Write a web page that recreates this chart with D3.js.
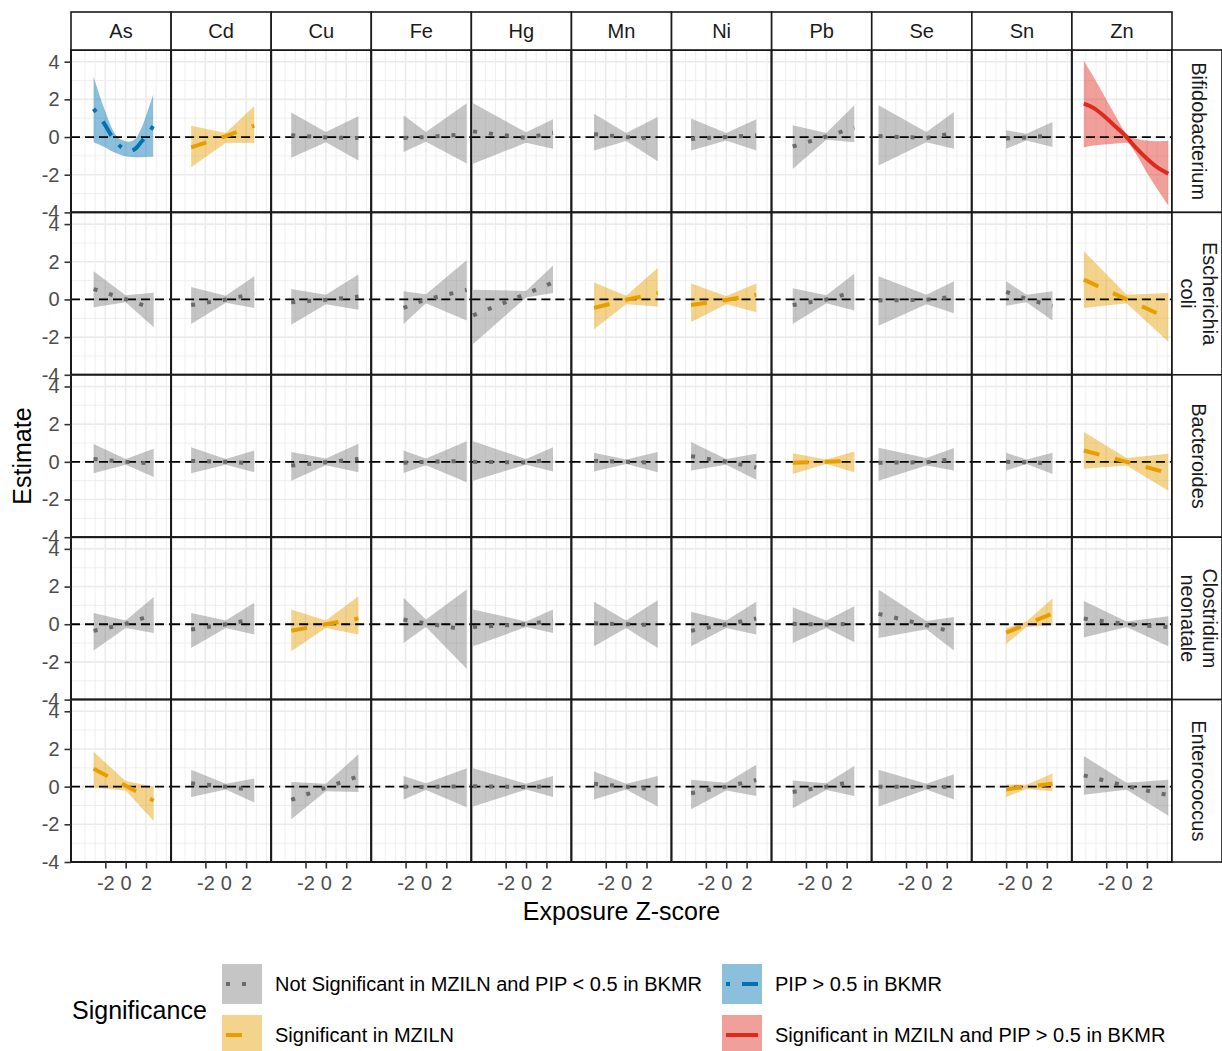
<!DOCTYPE html>
<html lang="en">
<head>
<meta charset="UTF-8">
<title>Exposure estimates by taxon</title>
<script src="https://d3js.org/d3.v7.min.js"></script>
<style>
  body { margin: 0; background: #fff; }
  svg { display: block; font-family: "Liberation Sans", Arial, sans-serif; }
</style>
</head>
<body>
<svg id="chart" width="1222" height="1051"></svg>
<script>
  // Facets
  const metals = ["As", "Cd", "Cu", "Fe", "Hg", "Mn", "Ni", "Pb", "Se", "Sn", "Zn"];
  const taxa = [["Bifidobacterium"], ["Escherichia", "coli"], ["Bacteroides"], ["Clostridium", "neonatale"], ["Enterococcus"]];

  const sigLabels = [
    "Not Significant in MZILN and PIP < 0.5 in BKMR",
    "PIP > 0.5 in BKMR",
    "Significant in MZILN",
    "Significant in MZILN and PIP > 0.5 in BKMR"
  ];
  const sigColors = ["#6a6a6a", "#0072B2", "#E69F00", "#DD2A1E"];
  const ribbonColors = ["#7f7f7f", "#0072B2", "#E69F00", "#DD2A1E"];
  const sigDash = ["4 12", "4 12 16 12", "16 16", null];

  // exposure z-score range of each metal
  const xLow  = [-3.15, -3.4, -3.4, -2.2, -5.2, -3.15, -3.45, -3.3, -4.7, -2.0, -4.2];
  const xHigh = [ 2.75,  2.8,  3.2,  4.0,  2.65, 3.1,   2.95,  2.75, 2.7,  2.55, 4.1];

  // significance group per taxon (rows) and metal (columns)
  const sig = [
    [1, 2, 0, 0, 0, 0, 0, 0, 0, 0, 3],
    [0, 0, 0, 0, 0, 2, 2, 0, 0, 0, 2],
    [0, 0, 0, 0, 0, 0, 0, 2, 0, 0, 2],
    [0, 0, 2, 0, 0, 0, 0, 0, 0, 2, 0],
    [2, 0, 0, 0, 0, 0, 0, 0, 0, 2, 0]
  ];

  // estimate at [min exposure, 0, max exposure]
  const est = [
    [null, [-0.55, 0.05, 0.6], [0.1, -0.02, -0.05], [-0.05, 0, 0.15], [0.3, -0.05, 0.22], [0.15, 0, -0.1], [-0.1, 0, 0.1], [-0.5, 0.03, 0.5], [0.05, -0.05, 0.2], [-0.08, -0.02, 0.08], null],
    [[0.55, 0.02, -0.5], [-0.3, 0, 0.3], [-0.15, -0.02, 0.15], [-0.45, 0, 0.5], [-0.85, 0.3, 0.9], [-0.45, -0.02, 0.35], [-0.3, -0.03, 0.25], [-0.3, 0, 0.4], [-0.05, -0.02, 0.15], [0.4, 0.03, -0.35], [1.05, 0, -1.0]],
    [[0.15, 0, -0.08], [0.05, 0, -0.08], [-0.2, -0.02, 0.15], [-0.05, 0, 0.05], [0, -0.03, 0.12], [0.05, 0, -0.05], [0.3, 0, -0.3], [-0.05, 0, 0.05], [-0.05, -0.02, 0.15], [0, -0.02, -0.08], [0.6, 0, -0.6]],
    [[-0.35, 0.02, 0.5], [-0.28, 0, 0.27], [-0.35, 0, 0.3], [0.25, 0.05, -0.3], [-0.15, 0, 0.2], [0.05, 0, -0.05], [-0.35, 0, 0.3], [0.02, -0.02, 0.02], [0.55, -0.05, -0.43], [-0.45, 0, 0.57], [0.3, 0, -0.15]],
    [[0.95, 0.05, -0.75], [0.18, 0, -0.18], [-0.7, -0.05, 0.55], [0, -0.02, 0.02], [0.02, -0.02, 0.03], [0.15, 0, -0.18], [-0.35, 0, 0.35], [-0.28, 0, 0.28], [0, -0.02, -0.02], [-0.15, 0, 0.15], [0.6, 0.02, -0.45]]
  ];
  const lower = [
    [null, [-1.6, -0.3, -0.32], [-1.1, -0.28, -1.25], [-0.8, -0.25, -1.4], [-1.42, -0.3, -0.62], [-0.71, -0.21, -1.28], [-0.71, -0.18, -0.71], [-1.69, -0.15, -0.27], [-1.51, -0.27, -0.62], [-0.62, -0.18, -0.53], null],
    [[-0.42, -0.15, -1.48], [-1.3, -0.18, -0.46], [-1.35, -0.25, -0.55], [-1.3, -0.2, -1.12], [-2.36, 0.1, 0.34], [-1.58, -0.25, -0.37], [-1.2, -0.25, -0.68], [-1.3, -0.2, -0.59], [-1.4, -0.25, -0.73], [-0.34, -0.15, -1.12], [-0.46, -0.2, -2.24]],
    [[-0.6, -0.15, -0.8], [-0.6, -0.15, -0.55], [-1.0, -0.18, -0.55], [-0.59, -0.18, -1.08], [-1.0, -0.15, -0.51], [-0.51, -0.12, -0.55], [-0.46, -0.15, -0.95], [-0.65, -0.12, -0.55], [-1.0, -0.2, -0.46], [-0.46, -0.12, -0.64], [-0.37, -0.2, -1.53]],
    [[-1.4, -0.2, -0.46], [-1.26, -0.2, -0.55], [-1.44, -0.2, -0.55], [-1.0, -0.15, -2.36], [-1.17, -0.15, -0.46], [-1.17, -0.2, -1.26], [-1.17, -0.2, -0.55], [-1.0, -0.2, -0.95], [-0.73, -0.27, -1.4], [-1.05, -0.15, -0.05], [-0.7, -0.15, -1.17]],
    [[-0.05, -0.2, -1.83], [-0.55, -0.15, -0.84], [-1.73, -0.25, -0.28], [-0.68, -0.18, -1.1], [-1.06, -0.15, -0.55], [-0.68, -0.15, -1.06], [-1.2, -0.2, -0.5], [-1.15, -0.18, -0.5], [-1.06, -0.15, -0.68], [-0.55, -0.12, -0.25], [-0.43, -0.16, -1.55]]
  ];
  const upper = [
    [null, [0.6, 0.22, 1.65], [1.3, 0.27, 1.1], [1.15, 0.27, 1.8], [1.8, 0.25, 0.95], [1.24, 0.21, 1.07], [0.98, 0.21, 0.94], [0.62, 0.22, 1.69], [1.69, 0.27, 1.33], [0.36, 0.18, 0.8], null],
    [[1.5, 0.22, 0.35], [0.66, 0.2, 1.23], [0.55, 0.25, 1.32], [0.43, 0.27, 2.08], [0.52, 0.45, 1.8], [0.9, 0.2, 1.67], [0.85, 0.18, 0.85], [0.6, 0.22, 1.37], [1.23, 0.25, 0.96], [0.96, 0.25, 0.43], [2.56, 0.25, 0.34]],
    [[0.95, 0.15, 0.7], [0.78, 0.15, 0.6], [0.52, 0.18, 0.96], [0.6, 0.18, 1.09], [1.09, 0.15, 0.78], [0.48, 0.12, 0.52], [1.05, 0.15, 0.43], [0.45, 0.12, 0.55], [0.75, 0.2, 0.73], [0.48, 0.12, 0.48], [1.58, 0.2, 0.43]],
    [[0.6, 0.2, 1.44], [0.6, 0.2, 1.14], [0.78, 0.2, 1.49], [1.4, 0.25, 1.85], [0.78, 0.15, 0.78], [1.19, 0.2, 1.28], [0.66, 0.2, 1.19], [0.9, 0.2, 0.96], [1.85, 0.17, 0.38], [-0.2, 0.15, 1.37], [1.23, 0.15, 0.43]],
    [[1.85, 0.3, 0.0], [0.9, 0.15, 0.43], [0.25, 0.15, 1.72], [0.57, 0.18, 0.98], [0.98, 0.15, 0.57], [0.8, 0.15, 0.57], [0.37, 0.2, 1.16], [0.33, 0.18, 1.1], [0.9, 0.15, 0.66], [0.12, 0.1, 0.7], [1.63, 0.2, 0.37]]
  ];

  // Bifidobacterium x As and x Zn are non-linear, read at more points
  const asBifX    = [-3.15, -2.0, -1.2, -0.4, 0.3, 1.0, 1.6, 2.2, 2.7];
  const asBifEst  = [1.5, 0.62, -0.1, -0.55, -0.75, -0.6, -0.21, 0.15, 0.6];
  const asBifLow  = [-0.27, -0.55, -0.8, -0.97, -1.05, -1.07, -1.07, -1.05, -1.05];
  const asBifHigh = [3.2, 1.35, 0.3, -0.15, -0.25, -0.06, 0.55, 1.45, 2.25];

  const znBifX    = [-4.2, -3.25, -2.3, -1.3, 0, 1.0, 2.0, 3.0, 4.1];
  const znBifEst  = [1.78, 1.55, 1.16, 0.66, 0.0, -0.62, -1.15, -1.6, -1.95];
  const znBifLow  = [-0.55, -0.45, -0.4, -0.35, -0.3, -0.95, -1.9, -2.75, -3.64];
  const znBifHigh = [4.05, 3.2, 2.3, 1.33, 0.18, -0.1, -0.18, -0.22, -0.2];

  // Layout
  const svg = d3.select("#chart");
  const pLeft = 71, pRight = 1172, pTop = 50, pBottom = 862;
  const pw = (pRight - pLeft) / metals.length;
  const ph = (pBottom - pTop) / taxa.length;

  const x = d3.scaleLinear().domain([-5.37, 4.46]).range([0, pw]);
  const y = d3.scaleLinear().domain([-4, 4.62]).range([ph, 0]);

  function panelData(r, c) {
    if (r === 0 && c === 0) {
      return asBifX.map((v, i) => ({ x: v, est: asBifEst[i], lo: asBifLow[i], hi: asBifHigh[i] }));
    }
    if (r === 0 && c === 10) {
      return znBifX.map((v, i) => ({ x: v, est: znBifEst[i], lo: znBifLow[i], hi: znBifHigh[i] }));
    }
    const xs = [xLow[c], 0, xHigh[c]];
    return xs.map((v, i) => ({ x: v, est: est[r][c][i], lo: lower[r][c][i], hi: upper[r][c][i] }));
  }

  const gridX = d3.range(-4, 5);
  const gridY = d3.range(-4, 5);

  // Panels
  taxa.forEach((taxon, r) => {
    metals.forEach((metal, c) => {
      const g = svg.append("g")
        .attr("transform", `translate(${pLeft + c * pw},${pTop + r * ph})`);

      g.append("rect").attr("width", pw).attr("height", ph).attr("fill", "#fff");

      g.selectAll(".gx").data(gridX).enter().append("line")
        .attr("x1", d => x(d)).attr("x2", d => x(d))
        .attr("y1", 0).attr("y2", ph)
        .attr("stroke", "#ebebeb")
        .attr("stroke-width", d => d % 2 === 0 && Math.abs(d) < 4 ? 1.6 : 0.8);

      g.selectAll(".gy").data(gridY).enter().append("line")
        .attr("x1", 0).attr("x2", pw)
        .attr("y1", d => y(d)).attr("y2", d => y(d))
        .attr("stroke", "#ebebeb")
        .attr("stroke-width", d => d % 2 === 0 ? 1.6 : 0.8);

      const s = sig[r][c];
      const pts = panelData(r, c);
      // smooth fits get a smooth curve; the straight fits keep their pinched waist
      const curve = pts.length > 3 ? d3.curveMonotoneX : d3.curveLinear;
      const area = d3.area().curve(curve).x(d => x(d.x)).y0(d => y(d.lo)).y1(d => y(d.hi));
      const line = d3.line().curve(curve).x(d => x(d.x)).y(d => y(d.est));

      g.append("path")
        .attr("d", area(pts))
        .attr("fill", ribbonColors[s])
        .attr("fill-opacity", 0.45);

      g.append("line")
        .attr("x1", 0).attr("x2", pw)
        .attr("y1", y(0)).attr("y2", y(0))
        .attr("stroke", "#000")
        .attr("stroke-width", 1.8)
        .attr("stroke-dasharray", "9 5");

      g.append("path")
        .attr("d", line(pts))
        .attr("fill", "none")
        .attr("stroke", sigColors[s])
        .attr("stroke-width", 4)
        .attr("stroke-dasharray", sigDash[s]);

      g.append("rect").attr("width", pw).attr("height", ph)
        .attr("fill", "none").attr("stroke", "#1a1a1a").attr("stroke-width", 2);
    });
  });

  // Top strips
  metals.forEach((metal, c) => {
    svg.append("rect")
      .attr("x", pLeft + c * pw).attr("y", 12)
      .attr("width", pw).attr("height", pTop - 12)
      .attr("fill", "#fff").attr("stroke", "#1a1a1a").attr("stroke-width", 1.6);
    svg.append("text")
      .attr("x", pLeft + c * pw + pw / 2).attr("y", 38)
      .attr("text-anchor", "middle")
      .attr("font-size", 20).attr("fill", "#1a1a1a")
      .text(metal);
  });

  // Right strips
  taxa.forEach((taxon, r) => {
    const cy = pTop + r * ph + ph / 2;
    svg.append("rect")
      .attr("x", pRight).attr("y", pTop + r * ph)
      .attr("width", 50).attr("height", ph)
      .attr("fill", "#fff").attr("stroke", "#1a1a1a").attr("stroke-width", 1.6);
    taxon.forEach((word, i) => {
      const cx = 1199 + (taxon.length - 1) * 11 - i * 22;
      svg.append("text")
        .attr("transform", `translate(${cx - 7},${cy}) rotate(90)`)
        .attr("text-anchor", "middle")
        .attr("font-size", 20).attr("fill", "#1a1a1a")
        .text(word);
    });
  });

  // Axes
  taxa.forEach((taxon, r) => {
    const ax = svg.append("g")
      .attr("transform", `translate(${pLeft},${pTop + r * ph})`)
      .call(d3.axisLeft(y).tickValues([-4, -2, 0, 2, 4]).tickFormat(d => String(d)).tickSize(6.5).tickPadding(5));
    ax.select(".domain").remove();
    ax.selectAll("line").attr("stroke", "#333").attr("stroke-width", 1.6);
    ax.selectAll("text").attr("font-size", 20).attr("fill", "#4d4d4d")
      .attr("font-family", "Liberation Sans, Arial, sans-serif");
  });

  metals.forEach((metal, c) => {
    const ax = svg.append("g")
      .attr("transform", `translate(${pLeft + c * pw},${pBottom})`)
      .call(d3.axisBottom(x).tickValues([-2, 0, 2]).tickFormat(d => String(d)).tickSize(6.5).tickPadding(7));
    ax.select(".domain").remove();
    ax.selectAll("line").attr("stroke", "#333").attr("stroke-width", 1.6);
    ax.selectAll("text").attr("font-size", 20).attr("fill", "#4d4d4d")
      .attr("font-family", "Liberation Sans, Arial, sans-serif");
  });

  // Axis titles
  svg.append("text")
    .attr("x", (pLeft + pRight) / 2).attr("y", 920)
    .attr("text-anchor", "middle").attr("font-size", 25).attr("fill", "#000")
    .text("Exposure Z-score");

  svg.append("text")
    .attr("transform", `translate(31,${(pTop + pBottom) / 2}) rotate(-90)`)
    .attr("text-anchor", "middle").attr("font-size", 25).attr("fill", "#000")
    .text("Estimate");

  // Legend
  svg.append("text")
    .attr("x", 72).attr("y", 1019)
    .attr("font-size", 25).attr("fill", "#000")
    .text("Significance");

  const keyPos = [[222, 964], [722, 964], [222, 1015], [722, 1015]];
  sigLabels.forEach((label, i) => {
    const [kx, ky] = keyPos[i];
    svg.append("rect")
      .attr("x", kx).attr("y", ky).attr("width", 40).attr("height", 40)
      .attr("fill", ribbonColors[i]).attr("fill-opacity", 0.45);
    svg.append("line")
      .attr("x1", kx + 4).attr("x2", kx + 36)
      .attr("y1", ky + 20).attr("y2", ky + 20)
      .attr("stroke", sigColors[i]).attr("stroke-width", 4)
      .attr("stroke-dasharray", sigDash[i]);
    svg.append("text")
      .attr("x", kx + 53).attr("y", ky + 27)
      .attr("font-size", 20).attr("fill", "#000")
      .text(label);
  });
</script>
</body>
</html>
